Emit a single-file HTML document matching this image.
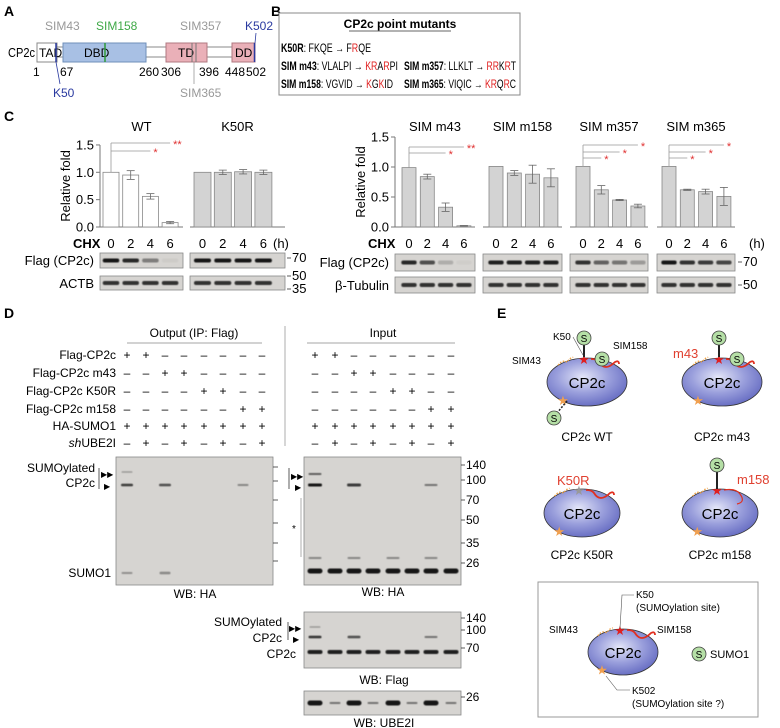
<!DOCTYPE html>
<html><head><meta charset="utf-8"><style>
html,body{margin:0;padding:0;background:#fff;}
svg{display:block;font-family:"Liberation Sans",Arial,sans-serif;}
</style></head><body>
<svg id="fig" width="780" height="728" viewBox="0 0 780 728" xmlns="http://www.w3.org/2000/svg">
<defs>
<filter id="blur" x="-20%" y="-50%" width="140%" height="200%"><feGaussianBlur stdDeviation="0.6"/></filter>
<radialGradient id="prot" cx="45%" cy="40%" r="60%"><stop offset="0" stop-color="#e4e6f8"/><stop offset="0.55" stop-color="#9a9fdc"/><stop offset="1" stop-color="#6a70c4"/></radialGradient>
</defs>

<!-- Panel A -->
<g>
<text x="4" y="16" font-size="14" font-weight="bold">A</text>
<text x="8" y="57" font-size="12.5" textLength="27" lengthAdjust="spacingAndGlyphs">CP2c</text>
<line x1="57" y1="47" x2="232" y2="47" stroke="#888" stroke-width="1"/>
<line x1="57" y1="57" x2="232" y2="57" stroke="#888" stroke-width="1"/>
<rect x="37" y="43" width="20" height="19" fill="#fff" stroke="#888"/>
<text x="39" y="57" font-size="12">TAD</text>
<rect x="63" y="43" width="83" height="19" fill="#a8c0e4" stroke="#6f8fba"/>
<text x="84" y="57" font-size="12">DBD</text>
<rect x="166" y="43" width="41" height="19" fill="#eab0b8" stroke="#b07880"/>
<text x="178" y="57" font-size="12">TD</text>
<rect x="232" y="43" width="23" height="19" fill="#eab0b8" stroke="#b07880"/>
<text x="235" y="57" font-size="12">DD</text>
<line x1="56" y1="43" x2="56" y2="62" stroke="#2a3aa0" stroke-width="1.5"/>
<line x1="105" y1="43" x2="105" y2="62" stroke="#2f9a3a" stroke-width="1.5"/>
<line x1="192" y1="43" x2="192" y2="62" stroke="#777" stroke-width="1"/>
<line x1="196" y1="43" x2="196" y2="62" stroke="#777" stroke-width="1"/>
<line x1="254.5" y1="43" x2="254.5" y2="62" stroke="#2a3aa0" stroke-width="1.5"/>
<text x="45" y="30" font-size="12" fill="#999">SIM43</text>
<text x="96" y="30" font-size="12" fill="#3ea846">SIM158</text>
<text x="180" y="30" font-size="12" fill="#999">SIM357</text>
<text x="245" y="30" font-size="12" fill="#2a3aa0">K502</text>
<line x1="256" y1="33" x2="255" y2="43" stroke="#2a3aa0" stroke-width="0.8"/>
<line x1="56" y1="62" x2="60" y2="84" stroke="#2a3aa0" stroke-width="0.8"/>
<line x1="194" y1="62" x2="194" y2="84" stroke="#999" stroke-width="0.8"/>
<text x="53" y="97" font-size="12" fill="#2a3aa0">K50</text>
<text x="180" y="97" font-size="12" fill="#999">SIM365</text>
<g font-size="12"><text x="33" y="76">1</text><text x="60" y="76">67</text><text x="139" y="76">260</text><text x="161" y="76">306</text><text x="199" y="76">396</text><text x="225" y="76">448</text><text x="246" y="76">502</text></g>
</g>

<!-- Panel B -->
<g>
<text x="271" y="16" font-size="14" font-weight="bold">B</text>
<rect x="279" y="13" width="241" height="82" fill="#fff" stroke="#888"/>
<text x="400" y="28" font-size="12" font-weight="bold" text-anchor="middle">CP2c point mutants</text>
<line x1="349" y1="31" x2="451" y2="31" stroke="#333" stroke-width="0.8"/>
<g font-size="11.5">
<text x="281" y="52" textLength="90" lengthAdjust="spacingAndGlyphs"><tspan font-weight="bold">K50R</tspan>: FKQE → F<tspan fill="#e02020">R</tspan>QE</text>
<text x="281" y="70" textLength="117" lengthAdjust="spacingAndGlyphs"><tspan font-weight="bold">SIM m43</tspan>: VLALPI → <tspan fill="#e02020">KR</tspan>A<tspan fill="#e02020">R</tspan>PI</text>
<text x="281" y="88" textLength="112" lengthAdjust="spacingAndGlyphs"><tspan font-weight="bold">SIM m158</tspan>: VGVID → <tspan fill="#e02020">K</tspan>G<tspan fill="#e02020">K</tspan>ID</text>
<text x="404" y="70" textLength="112" lengthAdjust="spacingAndGlyphs"><tspan font-weight="bold">SIM m357</tspan>: LLKLT → <tspan fill="#e02020">RR</tspan>K<tspan fill="#e02020">R</tspan>T</text>
<text x="404" y="88" textLength="112" lengthAdjust="spacingAndGlyphs"><tspan font-weight="bold">SIM m365</tspan>: VIQIC → <tspan fill="#e02020">KR</tspan>Q<tspan fill="#e02020">R</tspan>C</text>
</g>
</g>

<!-- Panel C -->
<text x="4" y="121" font-size="14" font-weight="bold">C</text>
<g id="chartC"></g>

<!-- Panel D -->
<g id="panelD">
<text x="4" y="318" font-size="14" font-weight="bold">D</text>
<text x="194" y="337" font-size="12" text-anchor="middle">Output  (IP: Flag)</text>
<line x1="127" y1="343" x2="262" y2="343" stroke="#888" stroke-width="0.8"/>
<line x1="285" y1="326" x2="285" y2="446" stroke="#999" stroke-width="0.8"/>
<text x="383" y="337" font-size="12" text-anchor="middle">Input</text>
<line x1="307" y1="343" x2="455" y2="343" stroke="#888" stroke-width="0.8"/>
</g>

<!-- Panel E -->
<g id="panelE">
<text x="497" y="318" font-size="14" font-weight="bold">E</text>
<rect x="538" y="582" width="220" height="135" fill="#fff" stroke="#999"/>
</g>
</svg>
<script>
const NS='http://www.w3.org/2000/svg';
function mk(parent,tag,attrs,text){const e=document.createElementNS(NS,tag);for(const k in attrs)e.setAttribute(k,attrs[k]);if(text!==undefined)e.textContent=text;parent.appendChild(e);return e;}

// ---------- Chart data (panel C) ----------
const timeLabels=['0','2','4','6'];
const yTicks=[0,0.5,1.0,1.5];
const wtValues=[1.0,0.95,0.56,0.08];
const wtErr=[0,0.08,0.05,0.02];
const k50rValues=[1.0,1.0,1.01,1.0];
const k50rErr=[0,0.04,0.04,0.04];
const m43Values=[0.99,0.84,0.33,0.02];
const m43Err=[0,0.04,0.07,0.005];
const m158Values=[1.01,0.9,0.88,0.82];
const m158Err=[0,0.04,0.15,0.15];
const m357Values=[1.01,0.62,0.45,0.35];
const m357Err=[0,0.07,0.01,0.03];
const m365Values=[1.01,0.62,0.59,0.51];
const m365Err=[0,0.01,0.04,0.15];
const panelTitles=['WT','K50R','SIM m43','SIM m158','SIM m357','SIM m365'];
const wtSig=['*','**'];
const m43Sig=['*','**'];
const m357Sig=['*','*','*'];
const m365Sig=['*','*','*'];
const flagBlotWT=[1,0.9,0.45,0.04];
const flagBlotK50R=[1,1,1,1];
const flagBlotM43=[0.9,0.7,0.2,0.03];
const flagBlotM158=[0.95,0.95,0.95,0.95];
const flagBlotM357=[0.85,0.6,0.5,0.3];
const flagBlotM365=[1,0.85,0.8,0.75];
const loadingBlot=[0.85,0.85,0.85,0.85];

const gC=document.getElementById('chartC');
function yScaleL(v){return 227-v*54.7;}
function yScaleR(v){return 227-v*60;}

function drawAxis(x,ys,top,name){
  const g=mk(gC,'g',{});
  
  
  mk(g,'line',{x1:x,y1:ys(0),x2:x,y2:ys(1.5),stroke:'#777','stroke-width':1});
  yTicks.forEach(t=>{
    mk(g,'line',{x1:x-4,y1:ys(t),x2:x,y2:ys(t),stroke:'#777','stroke-width':1});
    mk(g,'text',{x:x-6,y:ys(t)+4.5,'font-size':13,'text-anchor':'end'},t.toFixed(1));
  });
  const lbl=mk(g,'text',{x:0,y:0,'font-size':13,'text-anchor':'middle',transform:`translate(${x-30},${ys(0.75)}) rotate(-90)`},'Relative fold');
  
  
}

function drawPanel(cfg){
  const g=mk(gC,'g',{});
  
  
  const ys=cfg.ys;
  mk(g,'line',{x1:cfg.x0,y1:ys(0),x2:cfg.x1,y2:ys(0),stroke:'#777','stroke-width':1});
  const t=mk(g,'text',{x:(cfg.x0+cfg.x1)/2,y:131,'font-size':13,'text-anchor':'middle'},cfg.title);
  
  
  const cx=i=>cfg.bx+cfg.bw/2+i*cfg.step;
  cfg.values.forEach((v,i)=>{
    const b=mk(g,'rect',{x:cx(i)-cfg.bw/2,y:ys(v),width:cfg.bw,height:ys(0)-ys(v),fill:cfg.fill,stroke:'#888','stroke-width':0.8});
    
    
    const e=cfg.err[i];
    if(e>0){
      mk(g,'line',{x1:cx(i),y1:ys(v+e),x2:cx(i),y2:ys(v-e),stroke:'#666','stroke-width':0.8});
      mk(g,'line',{x1:cx(i)-4,y1:ys(v+e),x2:cx(i)+4,y2:ys(v+e),stroke:'#666','stroke-width':0.8});
      mk(g,'line',{x1:cx(i)-4,y1:ys(v-e),x2:cx(i)+4,y2:ys(v-e),stroke:'#666','stroke-width':0.8});
    }
    const tl=mk(g,'text',{x:cx(i),y:248,'font-size':13,'text-anchor':'middle'},timeLabels[i]);
    
    
  });
  const n=cfg.sig.length;
  cfg.sig.forEach((s,k)=>{
    const endBar=4-n+k;
    const y=cfg.sigY[k];
    mk(g,'line',{x1:cx(0),y1:y,x2:cx(endBar),y2:y,stroke:'#999','stroke-width':0.8});
    const st=mk(g,'text',{x:cx(endBar)+3,y:y+5,'font-size':11,fill:'#e03030'},s);
    
    
  });
  if(n>0) mk(g,'line',{x1:cx(0),y1:cfg.sigY[n-1],x2:cx(0),y2:ys(cfg.values[0]),stroke:'#999','stroke-width':0.8});
  cfg.blots.forEach(bl=>{
    const r=mk(g,'rect',{x:cfg.x0,y:bl.y,width:cfg.x1-cfg.x0,height:bl.h,fill:'#d6d4d1',stroke:'#888','stroke-width':0.8});
    
    
    bl.vals.forEach((v,i)=>{
      mk(g,'rect',{x:cx(i)-cfg.step*0.42,y:bl.y+bl.h/2-2,width:cfg.step*0.84,height:4,rx:2,fill:'#151515',opacity:v,filter:'url(#blur)'});
    });
  });
}

drawAxis(100,yScaleL,145,'y-axis-left');
drawAxis(395,yScaleR,137,'y-axis-right');
const leftBlots=(f)=>[{name:'flag',y:253,h:15,vals:f},{name:'actb',y:276,h:14,vals:loadingBlot}];
const rightBlots=(f)=>[{name:'flag',y:254,h:17,vals:f},{name:'tubulin',y:277,h:16,vals:loadingBlot}];
drawPanel({id:'wt',title:panelTitles[0],x0:100,x1:183,bx:103,bw:16,step:19.7,ys:yScaleL,values:wtValues,err:wtErr,fill:'#fff',sig:wtSig,sigY:[151,143],blots:leftBlots(flagBlotWT)});
drawPanel({id:'k50r',title:panelTitles[1],x0:190,x1:285,bx:194,bw:17,step:20.3,ys:yScaleL,values:k50rValues,err:k50rErr,fill:'#d3d3d3',sig:[],sigY:[],blots:leftBlots(flagBlotK50R)});
drawPanel({id:'m43',title:panelTitles[2],x0:395,x1:475,bx:402,bw:14,step:18.3,ys:yScaleR,values:m43Values,err:m43Err,fill:'#d3d3d3',sig:m43Sig,sigY:[153,147],blots:rightBlots(flagBlotM43)});
drawPanel({id:'m158',title:panelTitles[3],x0:483,x1:562,bx:489,bw:14,step:18.3,ys:yScaleR,values:m158Values,err:m158Err,fill:'#d3d3d3',sig:[],sigY:[],blots:rightBlots(flagBlotM158)});
drawPanel({id:'m357',title:panelTitles[4],x0:570,x1:648,bx:576,bw:14,step:18.3,ys:yScaleR,values:m357Values,err:m357Err,fill:'#d3d3d3',sig:m357Sig,sigY:[158,152,145],blots:rightBlots(flagBlotM357)});
drawPanel({id:'m365',title:panelTitles[5],x0:657,x1:735,bx:662,bw:14,step:18.3,ys:yScaleR,values:m365Values,err:m365Err,fill:'#d3d3d3',sig:m365Sig,sigY:[158,152,145],blots:rightBlots(flagBlotM365)});
[[73,'CHX'],[368,'CHX']].forEach(([x,s])=>{mk(gC,'text',{x:x,y:248,'font-size':13,'font-weight':'bold'},s);});
mk(gC,'text',{x:273,y:248,'font-size':13},'(h)');
mk(gC,'text',{x:749,y:248,'font-size':13},'(h)');
mk(gC,'text',{x:94,y:265,'font-size':13,'text-anchor':'end'},'Flag (CP2c)');
mk(gC,'text',{x:94,y:288,'font-size':13,'text-anchor':'end'},'ACTB');
mk(gC,'text',{x:389,y:267,'font-size':13,'text-anchor':'end'},'Flag (CP2c)');
mk(gC,'text',{x:389,y:290,'font-size':13,'text-anchor':'end'},'β-Tubulin');
[[287,262,'70'],[287,280,'50'],[287,293,'35'],[738,266,'70'],[738,289,'50']].forEach(([x,y,s])=>{
  mk(gC,'line',{x1:x,y1:y-4,x2:x+4,y2:y-4,stroke:'#333','stroke-width':0.8});
  mk(gC,'text',{x:x+5,y:y,'font-size':13},s);
});

// ---------- Panel D ----------
const gD=document.getElementById('panelD');
const rowLabels=['Flag-CP2c','Flag-CP2c m43','Flag-CP2c K50R','Flag-CP2c m158','HA-SUMO1','UBE2I'];
const rowY=[359,377,395,413,430,447];
const signRows=['++------','--++----','----++--','------++','++++++++','-+-+-+-+'];
const outLanes=[127,146,165,184,204,223,243,262];
const inLanes=[315,335,354,373,393,412,431,451];
rowLabels.forEach((l,r)=>{
  const t=mk(gD,'text',{x:116,y:rowY[r],'font-size':12,'text-anchor':'end'});
  if(r===5){mk(t,'tspan',{'font-style':'italic'},'sh');mk(t,'tspan',{},l);}else t.textContent=l;
  
  
  [outLanes,inLanes].forEach(L=>{L.forEach((x,i)=>{mk(gD,'text',{x:x,y:rowY[r],'font-size':12,'text-anchor':'middle'},signRows[r][i]==='+'?'+':'–');});});
});
function blot(x,y,w,h,name){const r=mk(gD,'rect',{x:x,y:y,width:w,height:h,fill:'#d6d4d1',stroke:'#888','stroke-width':0.8});}
function band(x,y,w,h,o){mk(gD,'rect',{x:x-w/2,y:y-h/2,width:w,height:h,rx:h/2,fill:'#151515',opacity:o,filter:'url(#blur)'});}
blot(116,457,157,128,'output-ha-blot');
blot(304,457,157,128,'input-ha-blot');
blot(304,612,157,56,'input-flag-blot');
blot(304,691,157,24,'input-ube2i-blot');
band(127,472,11,1.5,0.3);band(127,485,12,2.5,0.8);band(165,485,12,2.5,0.7);band(243,485,11,2,0.4);
band(127,573,11,2,0.35);band(165,573,11,2.5,0.4);
[467,481,500,523,543,561].forEach(y=>mk(gD,'line',{x1:273,y1:y,x2:278,y2:y,stroke:'#333','stroke-width':0.8}));
band(315,474,13,2,0.6);band(315,485,14,3,1);band(354,485,14,3,0.8);band(431,485,13,2,0.5);
inLanes.forEach((x,i)=>{band(x,571,15,5,1);});
[315,354,393,431].forEach(x=>band(x,558,13,2,0.4));
inLanes.forEach(x=>band(x,652,15,4,0.95));
band(315,627,11,1.5,0.3);band(315,637,13,2.5,0.85);band(354,637,13,2.5,0.7);band(431,637,13,2,0.5);
inLanes.forEach((x,i)=>band(x,703,i%2===0?15:11,i%2===0?5:2,i%2===0?1:0.5));
[[465,'140'],[480,'100'],[500,'70'],[520,'50'],[543,'35'],[563,'26'],[618,'140'],[630,'100'],[648,'70'],[697,'26']].forEach(([y,s])=>{
  mk(gD,'line',{x1:461,y1:y,x2:465,y2:y,stroke:'#333','stroke-width':0.8});
  mk(gD,'text',{x:466,y:y+4,'font-size':12},s);
});
mk(gD,'text',{x:95,y:472,'font-size':12,'text-anchor':'end'},'SUMOylated');
mk(gD,'text',{x:95,y:487,'font-size':12,'text-anchor':'end'},'CP2c');
mk(gD,'line',{x1:99,y1:468,x2:99,y2:489,stroke:'#333','stroke-width':0.8});
mk(gD,'text',{x:101,y:477,'font-size':8},'▶▶');
mk(gD,'text',{x:104,y:489,'font-size':8},'▶');
mk(gD,'text',{x:111,y:577,'font-size':12,'text-anchor':'end'},'SUMO1');
mk(gD,'line',{x1:289,y1:468,x2:289,y2:489,stroke:'#333','stroke-width':0.8});
mk(gD,'text',{x:291,y:479,'font-size':8},'▶▶');
mk(gD,'text',{x:295,y:490,'font-size':8},'▶');
mk(gD,'line',{x1:301,y1:498,x2:301,y2:557,stroke:'#999','stroke-width':0.8});
mk(gD,'text',{x:292,y:532,'font-size':10},'*');
mk(gD,'text',{x:195,y:598,'font-size':12,'text-anchor':'middle'},'WB: HA');
mk(gD,'text',{x:383,y:596,'font-size':12,'text-anchor':'middle'},'WB: HA');
mk(gD,'text',{x:282,y:626,'font-size':12,'text-anchor':'end'},'SUMOylated');
mk(gD,'text',{x:282,y:642,'font-size':12,'text-anchor':'end'},'CP2c');
mk(gD,'line',{x1:288,y1:622,x2:288,y2:640,stroke:'#333','stroke-width':0.8});
mk(gD,'text',{x:289,y:631,'font-size':8},'▶▶');
mk(gD,'text',{x:293,y:642,'font-size':8},'▶');
mk(gD,'text',{x:296,y:658,'font-size':12,'text-anchor':'end'},'CP2c');
mk(gD,'text',{x:384,y:684,'font-size':12,'text-anchor':'middle'},'WB: Flag');
mk(gD,'text',{x:384,y:727,'font-size':12,'text-anchor':'middle'},'WB: UBE2I');

// ---------- Panel E ----------
const gE=document.getElementById('panelE');
function sumo(x,y){const c=mk(gE,'circle',{cx:x,cy:y,r:7,fill:'#b5dfa6',stroke:'#444','stroke-width':0.8});mk(gE,'text',{x:x,y:y+4,'font-size':10,'text-anchor':'middle'},'S');}
function star(x,y,col){mk(gE,'text',{x:x,y:y+5,'font-size':13,'text-anchor':'middle',fill:col},'★');}
function protein(cx,cy,rx,ry,opt){
  const e=mk(gE,'ellipse',{cx:cx,cy:cy,rx:rx,ry:ry,fill:'url(#prot)',stroke:'#333','stroke-width':0.8});
  
  
  mk(gE,'path',{d:`M${cx-rx*0.72} ${cy-ry*0.7} q4 -6 9 -3 q2 -4 6 -5`,fill:'none',stroke:'#f0a040','stroke-width':1.3,'stroke-dasharray':'1.5 1.5'});
  if(opt.m158) mk(gE,'path',{d:`M${cx+4} ${cy-ry+1} q12 -2 16 4 q6 8 -3 10`,fill:'none',stroke:'#e03020','stroke-width':1.2});
  else mk(gE,'path',{d:`M${cx+4} ${cy-ry+1} q6 0 8 3 q6 10 16 0 q4 -2 4 2`,fill:'none',stroke:'#e03020','stroke-width':1.8});
  star(cx-3,cy-ry+1,opt.k50r?'#999':'#e02020');
  star(cx-rx*0.6,cy+ry*0.75,'#f0a050');
  mk(gE,'text',{x:cx,y:cy+6,'font-size':15,'text-anchor':'middle'},'CP2c');
}
protein(587,382,40,24,{});
mk(gE,'line',{x1:584,y1:357,x2:584,y2:345,stroke:'#222','stroke-width':2});sumo(584,338);
sumo(602,359);
mk(gE,'line',{x1:567,y1:401,x2:557,y2:413,stroke:'#222','stroke-width':1.5,'stroke-dasharray':'2 1.5'});sumo(554,418);
mk(gE,'text',{x:553,y:340,'font-size':10},'K50');
mk(gE,'line',{x1:573,y1:337,x2:583,y2:355,stroke:'#555','stroke-width':0.6});
mk(gE,'text',{x:613,y:349,'font-size':10},'SIM158');
mk(gE,'text',{x:512,y:364,'font-size':10},'SIM43');
mk(gE,'text',{x:587,y:441,'font-size':12,'text-anchor':'middle'},'CP2c WT');
protein(722,382,40,24,{});
mk(gE,'line',{x1:719,y1:357,x2:719,y2:345,stroke:'#222','stroke-width':2});sumo(719,338);
sumo(737,359);
mk(gE,'text',{x:673,y:358,'font-size':13,fill:'#e04030'},'m43');
mk(gE,'text',{x:722,y:441,'font-size':12,'text-anchor':'middle'},'CP2c m43');
protein(582,513,38,24,{k50r:true});
mk(gE,'text',{x:557,y:485,'font-size':13,fill:'#e04030'},'K50R');
mk(gE,'text',{x:582,y:559,'font-size':12,'text-anchor':'middle'},'CP2c K50R');
protein(720,513,38,24,{m158:true});
mk(gE,'line',{x1:717,y1:489,x2:717,y2:472,stroke:'#222','stroke-width':2});sumo(717,465);
mk(gE,'text',{x:737,y:484,'font-size':13,fill:'#e04030'},'m158');
mk(gE,'text',{x:720,y:559,'font-size':12,'text-anchor':'middle'},'CP2c m158');
protein(623,652,35,23,{});
mk(gE,'text',{x:636,y:598,'font-size':10},'K50');
mk(gE,'text',{x:636,y:611,'font-size':10},'(SUMOylation site)');
mk(gE,'polyline',{points:'634,595 622,595 620,628',fill:'none',stroke:'#555','stroke-width':0.6});
mk(gE,'text',{x:549,y:633,'font-size':10},'SIM43');
mk(gE,'text',{x:657,y:633,'font-size':10},'SIM158');
mk(gE,'text',{x:632,y:694,'font-size':10},'K502');
mk(gE,'text',{x:632,y:707,'font-size':10},'(SUMOylation site ?)');
mk(gE,'polyline',{points:'606,676 617,690 630,690',fill:'none',stroke:'#555','stroke-width':0.6});
sumo(699,654);
mk(gE,'text',{x:710,y:658,'font-size':11},'SUMO1');
</script>
</body></html>
